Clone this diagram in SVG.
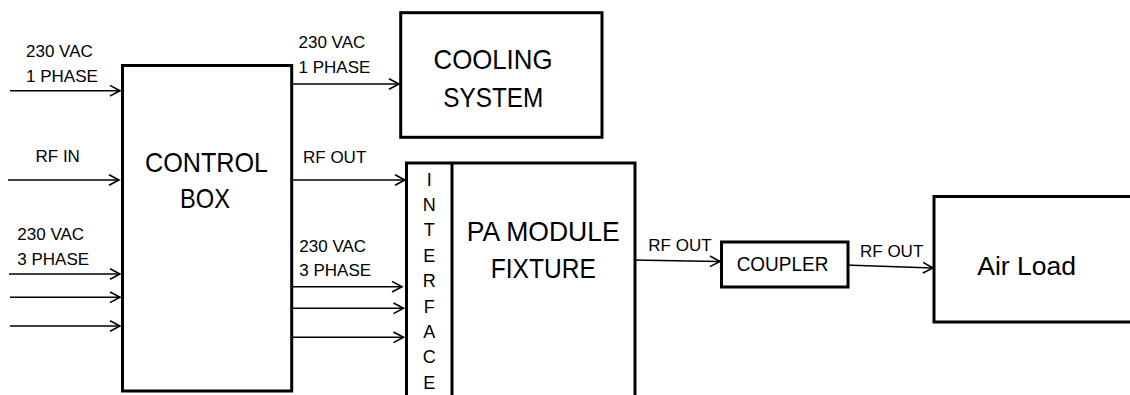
<svg xmlns="http://www.w3.org/2000/svg" width="1130" height="395" viewBox="0 0 1130 395">
<style>
.box{fill:#fff;stroke:#000;stroke-width:3}
.ln{fill:none;stroke:#000;stroke-width:1.6}
.lbl{font-family:"Liberation Sans",Arial,sans-serif;font-size:17px;fill:#000}
.big{font-family:"Liberation Sans",Arial,sans-serif;font-size:28px;fill:#000;text-anchor:middle}
.ifc{font-family:"Liberation Sans",Arial,sans-serif;font-size:18px;fill:#000;text-anchor:middle}
</style>
<defs>
<marker id="ah" markerUnits="userSpaceOnUse" markerWidth="14" markerHeight="14" viewBox="-12 -7 14 14" refX="0" refY="0" orient="auto">
<path d="M-10,-5.3 L0,0 L-10,5.3" fill="none" stroke="#000" stroke-width="1.6"/>
</marker>
</defs>
<rect width="1130" height="395" fill="#fff"/>
<g id="connectors">
<line class="ln" x1="10" y1="90.7" x2="120" y2="90.7" marker-end="url(#ah)"/>
<line class="ln" x1="8" y1="180" x2="119" y2="180" marker-end="url(#ah)"/>
<line class="ln" x1="9" y1="274" x2="120" y2="274" marker-end="url(#ah)"/>
<line class="ln" x1="10" y1="297.3" x2="120" y2="297.3" marker-end="url(#ah)"/>
<line class="ln" x1="10" y1="326" x2="120" y2="326" marker-end="url(#ah)"/>
<line class="ln" x1="292" y1="84" x2="399" y2="84" marker-end="url(#ah)"/>
<line class="ln" x1="292" y1="180" x2="405" y2="180" marker-end="url(#ah)"/>
<line class="ln" x1="292" y1="286.7" x2="402" y2="286.7" marker-end="url(#ah)"/>
<line class="ln" x1="292" y1="308.3" x2="403.5" y2="308.3" marker-end="url(#ah)"/>
<line class="ln" x1="292" y1="337.3" x2="403.5" y2="337.3" marker-end="url(#ah)"/>
<line class="ln" x1="632" y1="260" x2="720" y2="261.5" marker-end="url(#ah)"/>
<line class="ln" x1="845" y1="265" x2="933" y2="268" marker-end="url(#ah)"/>
<text class="lbl" x="26" y="57.3">230 VAC</text>
<text class="lbl" x="26" y="81.7">1 PHASE</text>
<text class="lbl" x="35.5" y="161.7">RF IN</text>
<text class="lbl" x="17.3" y="240">230 VAC</text>
<text class="lbl" x="17.3" y="265">3 PHASE</text>
<text class="lbl" x="298.5" y="48.3">230 VAC</text>
<text class="lbl" x="298.5" y="72.7">1 PHASE</text>
<text class="lbl" x="303" y="163.3">RF OUT</text>
<text class="lbl" x="299.3" y="252.3">230 VAC</text>
<text class="lbl" x="299.3" y="276">3 PHASE</text>
<text class="lbl" x="648.3" y="250.7">RF OUT</text>
<text class="lbl" x="860" y="257.3">RF OUT</text>
</g>
<g id="control-box">
<rect class="box" x="122.5" y="65.5" width="169.2" height="325.5"/>
<text class="big" x="206.5" y="171.5" textLength="123" lengthAdjust="spacingAndGlyphs">CONTROL</text>
<text class="big" x="205" y="208.3" textLength="50" lengthAdjust="spacingAndGlyphs">BOX</text>
</g>
<g id="cooling-system">
<rect class="box" x="400.7" y="12.7" width="201.3" height="124.6"/>
<text class="big" x="493" y="69" textLength="119" lengthAdjust="spacingAndGlyphs">COOLING</text>
<text class="big" x="493.3" y="106.7" textLength="100" lengthAdjust="spacingAndGlyphs">SYSTEM</text>
</g>
<g id="pa-module-fixture">
<rect class="box" x="406.5" y="163" width="228.5" height="240"/>
<line x1="452" y1="163" x2="452" y2="400" stroke="#000" stroke-width="3"/>
<text class="ifc" x="429.3" y="186">I</text>
<text class="ifc" x="429.3" y="210.7">N</text>
<text class="ifc" x="429.3" y="236">T</text>
<text class="ifc" x="429.3" y="261.7">E</text>
<text class="ifc" x="429.3" y="287.3">R</text>
<text class="ifc" x="429.3" y="312.7">F</text>
<text class="ifc" x="429.3" y="338.3">A</text>
<text class="ifc" x="429.3" y="363.3">C</text>
<text class="ifc" x="429.3" y="389.3">E</text>
<text class="big" x="543.3" y="241" textLength="153" lengthAdjust="spacingAndGlyphs">PA MODULE</text>
<text class="big" x="543.3" y="278.3" textLength="105" lengthAdjust="spacingAndGlyphs">FIXTURE</text>
</g>
<g id="coupler">
<rect class="box" x="721.5" y="242" width="126.5" height="45"/>
<text class="big" x="782.5" y="270.7" style="font-size:20px" textLength="91.7" lengthAdjust="spacingAndGlyphs">COUPLER</text>
</g>
<g id="air-load">
<rect class="box" x="934" y="196.5" width="210" height="125.5"/>
<text class="big" x="1026.6" y="275" style="font-size:26.5px">Air Load</text>
</g>
</svg>
